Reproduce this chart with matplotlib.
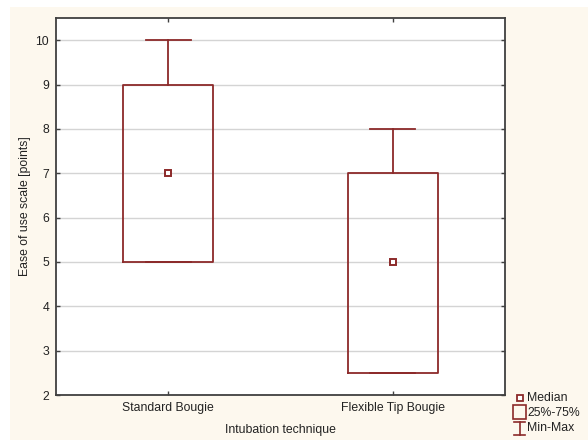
import matplotlib
matplotlib.use("Agg")
import matplotlib.pyplot as plt
from matplotlib.patches import Rectangle
from matplotlib.lines import Line2D

plt.rcParams['font.family'] = ['Liberation Sans', 'DejaVu Sans']

categories = ["Standard Bougie", "Flexible Tip Bougie"]
medians = [7, 5]
q1 = [5, 2.5]
q3 = [9, 7]
mins = [5, 2.5]
maxs = [10, 8]
yticks = [2, 3, 4, 5, 6, 7, 8, 9, 10]

red = '#8c2a2a'
fs = 8.8
fig = plt.figure(figsize=(5.88, 4.42), dpi=100)
fig.patch.set_facecolor('white')
fig.patches.append(Rectangle((10/588, 2/442), 578/588, 433/442, transform=fig.transFigure,
                             facecolor='#fdf8ee', edgecolor='none', zorder=-10))
ax = fig.add_axes([56/588, 1-395/442, 449/588, 377/442])
ax.set_facecolor('white')

stats = []
for c, m, a, b, lo, hi in zip(categories, medians, q1, q3, mins, maxs):
    stats.append(dict(label=c, med=m, q1=a, q3=b, whislo=lo, whishi=hi, fliers=[]))
pos = list(range(1, len(categories)+1))
ax.bxp(stats, positions=pos, widths=0.4, capwidths=0.2, showfliers=False,
       boxprops=dict(color=red, linewidth=1.3),
       whiskerprops=dict(color=red, linewidth=1.3),
       capprops=dict(color=red, linewidth=1.3),
       medianprops=dict(linewidth=0), zorder=3)
ax.plot(pos, medians, linestyle='none', marker='s', markersize=5,
        markerfacecolor='white', markeredgecolor=red, markeredgewidth=1.4, zorder=4)

ax.set_xlim(0.5, 2.5)
ax.set_ylim(2, 10.5)
ax.set_yticks(yticks)
ax.set_xticks(pos)
ax.set_xticklabels(categories)
ax.yaxis.grid(True, color='#d4d4d4', linewidth=1)
ax.set_axisbelow(True)
for s in ax.spines.values():
    s.set_color('#404040')
    s.set_linewidth(1.3)
ax.tick_params(direction='in', length=3, width=1, colors='#404040', labelcolor='#222222',
               labelsize=fs, top=True, right=True, pad=5)
ax.set_ylabel("Ease of use scale [points]", fontsize=fs, color='#222222', labelpad=3)
ax.set_xlabel("Intubation technique", fontsize=fs, color='#222222', labelpad=7)

# legend
tf = fig.transFigure
def fx(x): return x/588
def fy(y): return 1-y/442
fig.add_artist(Line2D([fx(520)], [fy(398)], marker='s', markersize=4.5, markerfacecolor='white',
                      markeredgecolor=red, markeredgewidth=1.3, transform=tf))
fig.text(fx(527), fy(398), "Median", fontsize=fs, va='center', color='#222222')
fig.add_artist(Rectangle((fx(513), fy(419)), 13/588, 14/442, transform=tf,
                         facecolor='none', edgecolor=red, linewidth=1.2))
fig.text(fx(527), fy(413), "25%-75%", fontsize=fs, va='center', color='#222222')
fig.add_artist(Line2D([fx(519.5), fx(519.5)], [fy(422), fy(435)], color=red, linewidth=1.2, transform=tf))
fig.add_artist(Line2D([fx(514), fx(525)], [fy(422), fy(422)], color=red, linewidth=1.2, transform=tf))
fig.add_artist(Line2D([fx(514), fx(525)], [fy(435), fy(435)], color=red, linewidth=1.2, transform=tf))
fig.text(fx(527), fy(428), "Min-Max", fontsize=fs, va='center', color='#222222')

fig.savefig("out.png", dpi=100, facecolor=fig.get_facecolor())
